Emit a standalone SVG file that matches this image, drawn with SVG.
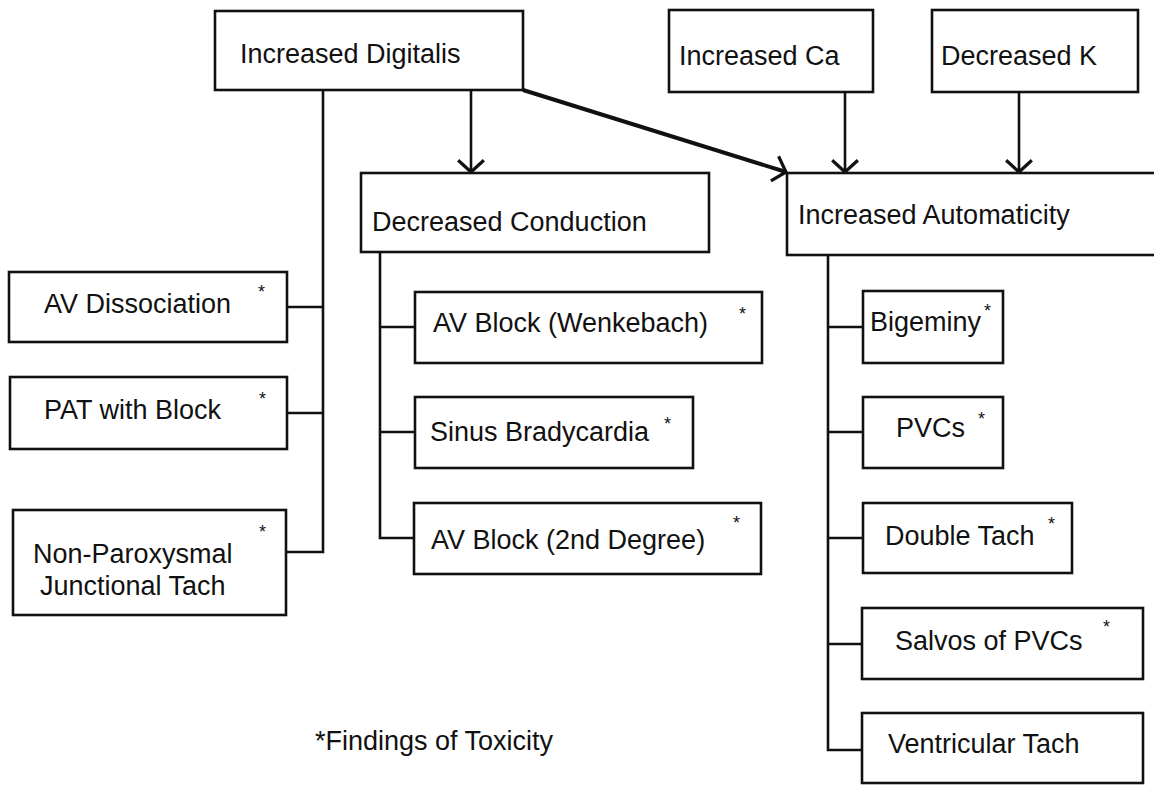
<svg xmlns="http://www.w3.org/2000/svg" width="1154" height="785" viewBox="0 0 1154 785">
<defs>
<style>
.box{fill:#fff;stroke:#111;stroke-width:2.6}
.t{font-family:"Liberation Sans",Arial,sans-serif;font-size:27px;fill:#111}
.s{font-family:"Liberation Sans",Arial,sans-serif;font-size:18px;fill:#111}
.c{fill:none;stroke:#111;stroke-width:2.6}
.thick{fill:none;stroke:#111;stroke-width:4}
</style>
<marker id="arr" markerUnits="userSpaceOnUse" markerWidth="30" markerHeight="30" viewBox="-14 -14 28 28" refX="0" refY="0" orient="auto">
<path d="M-11,-12 L0,0 L-11,12" fill="none" stroke="#111" stroke-width="3"/>
</marker>
</defs>
<rect width="1154" height="785" fill="#fff"/>
<g id="connectors">
<line class="c" x1="471" y1="90" x2="471" y2="172" marker-end="url(#arr)"/>
<line class="thick" x1="523" y1="90" x2="786" y2="172" marker-end="url(#arr)"/>
<line class="c" x1="845" y1="92" x2="845" y2="172" marker-end="url(#arr)"/>
<line class="c" x1="1019" y1="92" x2="1019" y2="172" marker-end="url(#arr)"/>
<polyline class="c" points="323,90 323,552 286,552"/>
<line class="c" x1="287" y1="307" x2="323" y2="307"/>
<line class="c" x1="287" y1="413" x2="323" y2="413"/>
<polyline class="c" points="380,252 380,538 414,538"/>
<line class="c" x1="380" y1="327" x2="415" y2="327"/>
<line class="c" x1="380" y1="432" x2="415" y2="432"/>
<polyline class="c" points="828,255 828,750 862,750"/>
<line class="c" x1="828" y1="327" x2="863" y2="327"/>
<line class="c" x1="828" y1="432" x2="863" y2="432"/>
<line class="c" x1="828" y1="538" x2="863" y2="538"/>
<line class="c" x1="828" y1="644" x2="862" y2="644"/>
</g>
<g id="increased-digitalis">
<rect class="box" x="215" y="11" width="308" height="79"/>
<text class="t" x="240" y="63">Increased Digitalis</text>
</g>
<g id="increased-ca">
<rect class="box" x="669" y="10" width="204" height="82"/>
<text class="t" x="679" y="65">Increased Ca</text>
</g>
<g id="decreased-k">
<rect class="box" x="932" y="10" width="206" height="82"/>
<text class="t" x="941" y="65">Decreased K</text>
</g>
<g id="decreased-conduction">
<rect class="box" x="361" y="173" width="348" height="79"/>
<text class="t" x="372" y="231">Decreased Conduction</text>
</g>
<g id="increased-automaticity">
<rect class="box" x="787" y="173" width="420" height="82"/>
<text class="t" x="798" y="224">Increased Automaticity</text>
</g>
<g id="av-dissociation">
<rect class="box" x="9" y="272" width="278" height="70"/>
<text class="t" x="44" y="313">AV Dissociation</text>
<text class="s" x="258" y="298">*</text>
</g>
<g id="pat-with-block">
<rect class="box" x="10" y="377" width="277" height="72"/>
<text class="t" x="44" y="419">PAT with Block</text>
<text class="s" x="259" y="405">*</text>
</g>
<g id="non-paroxysmal">
<rect class="box" x="13" y="510" width="273" height="105"/>
<text class="t" x="33" y="563">Non-Paroxysmal</text>
<text class="t" x="40" y="595">Junctional Tach</text>
<text class="s" x="259" y="538">*</text>
</g>
<g id="av-block-wenkebach">
<rect class="box" x="415" y="292" width="347" height="71"/>
<text class="t" x="433" y="332">AV Block (Wenkebach)</text>
<text class="s" x="739" y="320">*</text>
</g>
<g id="sinus-bradycardia">
<rect class="box" x="415" y="397" width="278" height="71"/>
<text class="t" x="430" y="441">Sinus Bradycardia</text>
<text class="s" x="664" y="430">*</text>
</g>
<g id="av-block-2nd">
<rect class="box" x="414" y="503" width="347" height="71"/>
<text class="t" x="431" y="549">AV Block (2nd Degree)</text>
<text class="s" x="733" y="529">*</text>
</g>
<g id="bigeminy">
<rect class="box" x="863" y="291" width="140" height="72"/>
<text class="t" x="870" y="331">Bigeminy</text>
<text class="s" x="984" y="317">*</text>
</g>
<g id="pvcs">
<rect class="box" x="863" y="397" width="140" height="71"/>
<text class="t" x="896" y="437">PVCs</text>
<text class="s" x="978" y="425">*</text>
</g>
<g id="double-tach">
<rect class="box" x="863" y="503" width="209" height="70"/>
<text class="t" x="885" y="545">Double Tach</text>
<text class="s" x="1048" y="530">*</text>
</g>
<g id="salvos-of-pvcs">
<rect class="box" x="862" y="608" width="281" height="71"/>
<text class="t" x="895" y="650">Salvos of PVCs</text>
<text class="s" x="1103" y="633">*</text>
</g>
<g id="ventricular-tach">
<rect class="box" x="862" y="713" width="281" height="70"/>
<text class="t" x="888" y="753">Ventricular Tach</text>
</g>
<g id="footnote">
<text class="t" x="315" y="750">*Findings of Toxicity</text>
</g>
</svg>
